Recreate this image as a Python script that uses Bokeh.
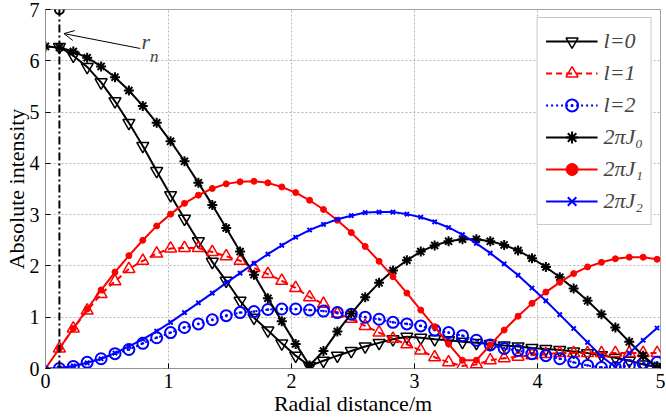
from bokeh.plotting import figure
from bokeh.models import Legend, LegendItem, Arrow, OpenHead, Label
from bokeh.embed import file_html
from bokeh.resources import INLINE

# radial sample positions (m)
x_j = [0.000, 0.113, 0.226, 0.339, 0.452, 0.565, 0.678, 0.791, 0.904, 1.017,
       1.130, 1.243, 1.356, 1.469, 1.582, 1.695, 1.808, 1.921, 2.034, 2.147,
       2.260, 2.373, 2.486, 2.599, 2.712, 2.825, 2.938, 3.051, 3.164, 3.277,
       3.390, 3.503, 3.616, 3.729, 3.842, 3.955, 4.068, 4.181, 4.294, 4.407,
       4.520, 4.633, 4.746, 4.859, 4.972]
x_sim = x_j[1:]

# simulated absolute intensity, l = 0, 1, 2
l0 = [6.27, 6.10, 5.88, 5.58, 5.21, 4.79, 4.34, 3.85, 3.38, 2.92,
      2.48, 2.08, 1.71, 1.32, 0.99, 0.74, 0.49, 0.25, 0.05, 0.15,
      0.25, 0.34, 0.43, 0.50, 0.57, 0.62, 0.60, 0.57, 0.55, 0.52,
      0.50, 0.48, 0.45, 0.43, 0.40, 0.38, 0.36, 0.33, 0.30, 0.26,
      0.21, 0.15, 0.08, 0.03]
l1 = [0.39, 0.78, 1.13, 1.45, 1.70, 1.94, 2.10, 2.24, 2.34, 2.35,
      2.35, 2.27, 2.19, 2.10, 1.96, 1.84, 1.71, 1.57, 1.39, 1.26,
      1.07, 0.97, 0.83, 0.70, 0.58, 0.47, 0.35, 0.22, 0.12, 0.05,
      0.08, 0.16, 0.20, 0.23, 0.26, 0.28, 0.30, 0.30, 0.30, 0.30,
      0.30, 0.30, 0.30, 0.30]
l2 = [0.00, 0.04, 0.12, 0.19, 0.29, 0.37, 0.49, 0.60, 0.70, 0.80,
      0.87, 0.95, 1.03, 1.09, 1.11, 1.15, 1.16, 1.16, 1.14, 1.12,
      1.09, 1.06, 1.00, 0.96, 0.90, 0.87, 0.83, 0.75, 0.70, 0.64,
      0.55, 0.46, 0.39, 0.35, 0.29, 0.25, 0.19, 0.12, 0.06, 0.02,
      0.02, 0.06, 0.10, 0.12]

# theoretical curves 2*pi*|J_n|
j0 = [6.28, 6.26, 6.18, 6.06, 5.89, 5.68, 5.42, 5.12, 4.79, 4.43,
      4.04, 3.62, 3.19, 2.74, 2.28, 1.83, 1.37, 0.92, 0.48, 0.06,
      0.34, 0.72, 1.07, 1.39, 1.67, 1.91, 2.11, 2.28, 2.40, 2.48,
      2.52, 2.52, 2.48, 2.41, 2.30, 2.15, 1.98, 1.78, 1.56, 1.32,
      1.06, 0.80, 0.52, 0.25, 0.02]
j1 = [0.00, 0.39, 0.78, 1.16, 1.53, 1.88, 2.20, 2.50, 2.78, 3.01,
      3.22, 3.38, 3.51, 3.60, 3.64, 3.65, 3.62, 3.54, 3.43, 3.28,
      3.10, 2.89, 2.65, 2.38, 2.09, 1.79, 1.47, 1.14, 0.81, 0.48,
      0.16, 0.16, 0.46, 0.75, 1.02, 1.27, 1.49, 1.68, 1.85, 1.98,
      2.07, 2.14, 2.17, 2.17, 2.13]
j2 = [0.00, 0.01, 0.05, 0.11, 0.19, 0.30, 0.43, 0.57, 0.73, 0.90,
      1.09, 1.28, 1.47, 1.67, 1.86, 2.05, 2.23, 2.40, 2.56, 2.70,
      2.81, 2.91, 2.98, 3.04, 3.05, 3.05, 3.01, 2.95, 2.86, 2.75,
      2.61, 2.44, 2.25, 2.04, 1.82, 1.57, 1.32, 1.05, 0.78, 0.51,
      0.24, 0.03, 0.30, 0.55, 0.79]

r_n = 0.113
x_ticks = [0, 1, 2, 3, 4, 5]
y_ticks = [0, 1, 2, 3, 4, 5, 6, 7]
labels = ["l=0", "l=1", "l=2", "2\u03c0J\u2080", "2\u03c0J\u2081", "2\u03c0J\u2082"]

SERIF = "Liberation Serif"
RED = "#ff0000"
BLUE = "#0000ff"

p = figure(width=666, height=418, x_range=(0, 5), y_range=(0, 7),
           output_backend="svg", toolbar_location=None,
           min_border_left=44, min_border_right=6, min_border_top=9,
           min_border_bottom=50)
p.background_fill_color = "white"
p.outline_line_color = "#a0a0a0"
p.outline_line_width = 1

for ax in (p.xaxis, p.yaxis):
    ax.major_label_text_font = SERIF
    ax.major_label_text_font_size = "20px"
    ax.major_label_text_color = "black"
    ax.axis_label_text_font = SERIF
    ax.axis_label_text_font_style = "normal"
    ax.axis_label_text_color = "black"
    ax.axis_line_color = "#909090"
    ax.major_tick_in = 5
    ax.major_tick_out = 0
    ax.major_tick_line_color = "black"
    ax.minor_tick_line_color = None
p.xaxis.ticker = x_ticks
p.yaxis.ticker = y_ticks
p.xaxis.axis_label = "Radial distance/m"
p.yaxis.axis_label = "Absolute intensity"
p.xaxis.axis_label_text_font_size = "22px"
p.yaxis.axis_label_text_font_size = "22px"
p.xaxis.major_label_standoff = 5
p.yaxis.major_label_standoff = 6
p.xaxis.axis_label_standoff = 0
p.yaxis.axis_label_standoff = -2

p.grid.grid_line_color = "#b4b4b4"
p.grid.grid_line_dash = "2 2"
p.grid.grid_line_width = 1

# simulated series
r_l0a = p.line(x_sim, l0, line_color="black", line_width=2)
r_l0b = p.scatter(x_sim, l0, marker="inverted_triangle", size=12,
                  line_color="black", fill_color=None, line_width=1.5)
r_l1a = p.line(x_sim, l1, line_color=RED, line_width=2, line_dash="6 4")
r_l1b = p.scatter(x_sim, l1, marker="triangle", size=12,
                  line_color=RED, fill_color=None, line_width=1.5)
r_l2a = p.line(x_sim, l2, line_color=BLUE, line_width=2, line_dash="2 3")
r_l2b = p.scatter(x_sim, l2, marker="circle_dot", size=11,
                  line_color=BLUE, fill_color=None, line_width=2)

# theoretical series
r_j0a = p.line(x_j, j0, line_color="black", line_width=2)
r_j0b = p.scatter(x_j, j0, marker="asterisk", size=10,
                  line_color="black", line_width=2)
r_j1a = p.line(x_j, j1, line_color=RED, line_width=2)
r_j1b = p.scatter(x_j, j1, marker="circle", size=6,
                  line_color=RED, fill_color=RED)
r_j2a = p.line(x_j, j2, line_color=BLUE, line_width=2)
r_j2b = p.scatter(x_j, j2, marker="x", size=6,
                  line_color=BLUE, line_width=2)

# r_n marker line
p.line([r_n, r_n], [0, 7], line_color="black", line_width=2, line_dash="8 3 2 3")
p.scatter([r_n], [7], marker="circle", size=9, line_color="black",
          fill_color=None, line_width=2)

p.add_layout(Arrow(end=OpenHead(size=10, line_width=1, line_color="black"),
                   x_start=0.77, y_start=6.24, x_end=0.15, y_end=6.53,
                   line_width=1, line_color="black"))
p.add_layout(Label(x=0.78, y=6.14, text="r", text_font=SERIF,
                   text_font_style="italic", text_font_size="22px"))
p.add_layout(Label(x=0.85, y=5.90, text="n", text_font=SERIF,
                   text_font_style="italic", text_font_size="17px"))

items = [
    LegendItem(label=labels[0], renderers=[r_l0a, r_l0b]),
    LegendItem(label=labels[1], renderers=[r_l1a, r_l1b]),
    LegendItem(label=labels[2], renderers=[r_l2a, r_l2b]),
    LegendItem(label=labels[3], renderers=[r_j0a, r_j0b]),
    LegendItem(label=labels[4], renderers=[r_j1a, r_j1b]),
    LegendItem(label=labels[5], renderers=[r_j2a, r_j2b]),
]
legend = Legend(items=items, location="top_right")
legend.margin = 8
legend.padding = 8
legend.spacing = 2
legend.glyph_width = 52
legend.glyph_height = 30
legend.label_height = 30
legend.label_standoff = 6
legend.label_text_font = SERIF
legend.label_text_font_style = "italic"
legend.label_text_font_size = "22px"
legend.border_line_color = "#909090"
legend.border_line_width = 1
legend.background_fill_alpha = 1.0
p.add_layout(legend)

open("out.html", "w").write(file_html(p, INLINE))
